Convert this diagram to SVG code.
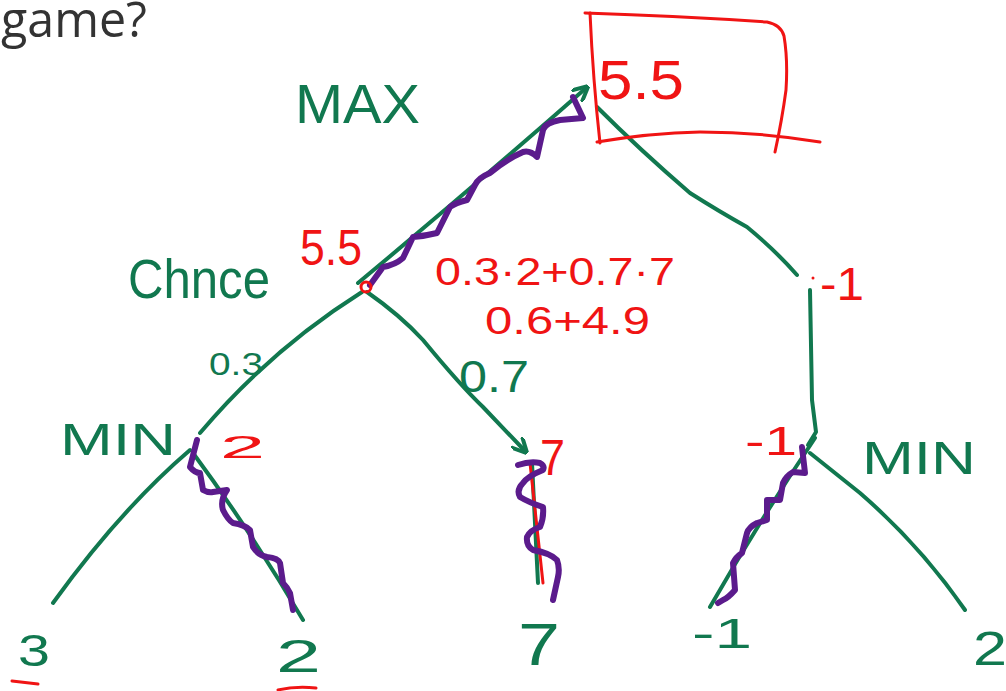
<svg xmlns="http://www.w3.org/2000/svg" width="1006" height="691" viewBox="0 0 1006 691">
<style>
.g{fill:none;stroke:#11784f;stroke-width:4;stroke-linecap:round;stroke-linejoin:round}
.p{fill:none;stroke:#5b1b8c;stroke-width:6;stroke-linecap:round;stroke-linejoin:round}
.r{fill:none;stroke:#f01414;stroke-width:3;stroke-linecap:round;stroke-linejoin:round}
.gt{fill:#11784f;font-family:"Liberation Sans",Arial,sans-serif}
.rt{fill:#f01414;font-family:"Liberation Sans",Arial,sans-serif}
</style>
<defs>
<marker id="ah" viewBox="0 0 10 10" refX="8" refY="5" markerWidth="4" markerHeight="4" orient="auto">
<path d="M0,0 L10,5 L0,10" fill="none" stroke="#11784f" stroke-width="2.5"/>
</marker>
</defs>
<rect width="1006" height="691" fill="#ffffff"/>
<text x="1" y="37" font-family="'Open Sans',sans-serif" font-size="50" fill="#333333" textLength="146" lengthAdjust="spacingAndGlyphs">game?</text>

<g id="connectors">
<path class="g" d="M358,283 Q470,190 586,88" marker-end="url(#ah)"/>
<path class="g" d="M597,107 Q640,150 690,193 Q720,212 747,227 Q775,250 797,275"/>
<path class="g" d="M810,290 L812,400 L816,432 L808,445"/>
<path class="g" d="M362,292 Q270,350 200,433"/>
<path class="g" d="M367,292 Q400,315 423,340 Q460,385 483,407 Q505,430 525,451" marker-end="url(#ah)"/>
<path class="g" d="M190,450 Q120,510 53,603"/>
<path class="g" d="M193,453 Q250,530 303,620"/>
<path class="g" d="M532,463 L538,583"/>
<path class="g" d="M815,438 Q760,520 710,607"/>
<path class="g" d="M810,453 L860,493 Q920,545 965,610"/>
<path class="r" d="M530,463 L543,583" stroke-width="2"/>
<path class="p" d="M573,97 L583,118 L560,120 Q545,123 543,130 L537,157 Q530,150 523,152 Q505,160 490,173 Q478,178 475,185 L467,200 Q455,203 450,207 L437,233 Q425,236 413,237 L403,258 Q395,265 383,267 L370,285"/>
<path class="p" d="M197,440 L190,467 Q195,473 200,473 L203,490 Q208,493 213,492 L227,490 Q220,500 223,510 Q228,520 233,523 Q245,525 250,530 L253,547 Q258,555 267,557 Q278,558 280,563 L283,583 Q288,588 290,593 L293,610"/>
<path class="p" d="M518,465 Q530,461 540,463 Q545,466 543,470 Q528,476 523,483 Q516,490 520,497 Q530,503 543,507 Q544,518 540,527 Q530,530 527,537 Q526,546 533,550 Q550,553 557,560 Q560,568 558,577 L553,600"/>
<path class="p" d="M802,447 L805,473 L793,472 Q786,476 783,483 L780,500 L767,500 L767,520 L757,523 Q749,527 747,533 L742,553 Q736,557 733,563 L735,590 Q728,598 723,600 L718,603"/>
</g>

<g id="root">
<path class="r" stroke-width="3.5" d="M585,13 Q680,16 767,22 Q781,25 784,36 Q788,60 786,90 Q782,120 775,152"/>
<path class="r" stroke-width="3.5" d="M590,13 Q593,80 600,143"/>
<path class="r" stroke-width="3.5" d="M597,142 Q650,133 700,132 Q760,132 820,142"/>
<text class="rt" x="598" y="99" font-size="56" textLength="86" lengthAdjust="spacingAndGlyphs">5.5</text>
<text class="gt" x="295" y="123" font-size="56" textLength="125" lengthAdjust="spacingAndGlyphs">MAX</text>
</g>

<g id="chance">
<circle class="r" cx="366" cy="287" r="5" stroke-width="2.5"/>
<text class="rt" x="300" y="265" font-size="50" textLength="62" lengthAdjust="spacingAndGlyphs">5.5</text>
<text class="gt" x="128" y="298" font-size="56" textLength="142" lengthAdjust="spacingAndGlyphs">Chnce</text>
<text class="rt" x="435" y="285" font-size="38" textLength="240" lengthAdjust="spacingAndGlyphs">0.3·2+0.7·7</text>
<text class="rt" x="485" y="334" font-size="38" textLength="165" lengthAdjust="spacingAndGlyphs">0.6+4.9</text>
<text class="gt" x="209" y="375" font-size="32" textLength="54" lengthAdjust="spacingAndGlyphs">0.3</text>
<text class="gt" x="459" y="392" font-size="44" textLength="70" lengthAdjust="spacingAndGlyphs">0.7</text>
</g>

<g id="min-left">
<text class="gt" x="60" y="455" font-size="44" textLength="116" lengthAdjust="spacingAndGlyphs">MIN</text>
<text class="rt" x="220" y="458" font-size="32" textLength="45" lengthAdjust="spacingAndGlyphs">2</text>
</g>

<g id="min-right">
<text class="rt" x="745" y="455" font-size="40" textLength="52" lengthAdjust="spacingAndGlyphs">-1</text>
<text class="gt" x="862" y="474" font-size="46" textLength="114" lengthAdjust="spacingAndGlyphs">MIN</text>
</g>

<g id="right-value">
<circle cx="813" cy="278" r="1.5" fill="#f01414"/>
<text class="rt" x="820" y="300" font-size="46" textLength="44" lengthAdjust="spacingAndGlyphs">-1</text>
</g>

<g id="chance-right-value">
<text class="rt" x="540" y="475" font-size="50" textLength="25" lengthAdjust="spacingAndGlyphs">7</text>
</g>

<g id="leaf-3">
<text class="gt" x="18" y="666" font-size="44" textLength="32" lengthAdjust="spacingAndGlyphs">3</text>
<path class="r" d="M12,681 L38,684"/>
</g>
<g id="leaf-2a">
<text class="gt" x="276" y="672" font-size="46" textLength="45" lengthAdjust="spacingAndGlyphs">2</text>
<path class="r" d="M278,690 Q295,686 316,688"/>
</g>
<g id="leaf-7">
<text class="gt" x="518" y="665" font-size="60" textLength="42" lengthAdjust="spacingAndGlyphs">7</text>
</g>
<g id="leaf-m1">
<text class="gt" x="692" y="648" font-size="42" textLength="60" lengthAdjust="spacingAndGlyphs">-1</text>
</g>
<g id="leaf-2b">
<text class="gt" x="973" y="665" font-size="48" textLength="34" lengthAdjust="spacingAndGlyphs">2</text>
</g>
</svg>
